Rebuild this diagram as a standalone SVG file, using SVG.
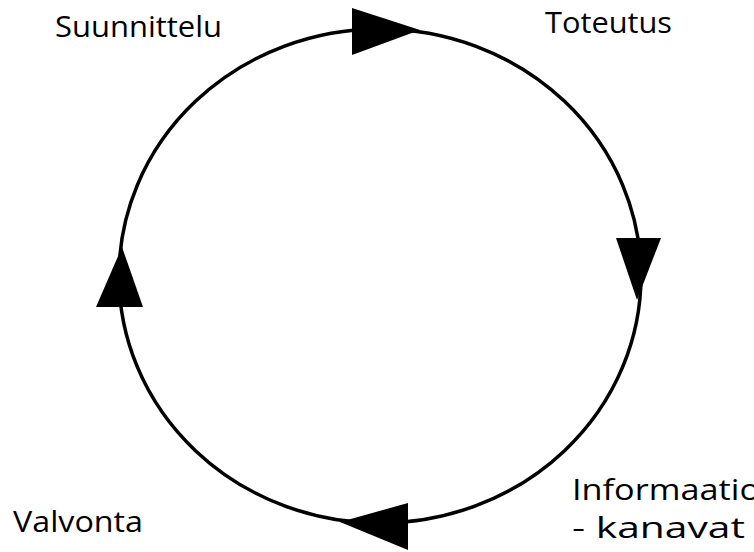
<svg xmlns="http://www.w3.org/2000/svg" width="754" height="552" viewBox="0 0 754 552">
  <style>
    .lbl { font-family: "Open Sans", "Noto Sans", "DejaVu Sans", sans-serif; font-size: 30px; fill: #000; }
    .ring { fill: none; stroke: #000; stroke-width: 3.5; }
    .head { fill: #000; }
  </style>
  <rect width="754" height="552" fill="#fff"/>

  <!-- cycle ring with direction arrowheads -->
  <g id="connectors">
    <ellipse class="ring" cx="380" cy="276" rx="261" ry="247"/>
    <polygon class="head" points="352,8 352,55 420,30"/>
    <polygon class="head" points="616,238 661,238 637,300"/>
    <polygon class="head" points="408,503 408,550 340,522"/>
    <polygon class="head" points="122,247 96,307 143,307"/>
  </g>

  <g id="suunnittelu">
    <text class="lbl" x="55" y="37" textLength="167" lengthAdjust="spacingAndGlyphs">Suunnittelu</text>
  </g>
  <g id="toteutus">
    <text class="lbl" x="545" y="33" textLength="127" lengthAdjust="spacingAndGlyphs">Toteutus</text>
  </g>
  <g id="informaatiokanavat">
    <text class="lbl" x="572" y="500" textLength="188" lengthAdjust="spacingAndGlyphs">Informaatio</text>
    <text class="lbl" x="572" y="538" textLength="173" lengthAdjust="spacingAndGlyphs">- kanavat</text>
  </g>
  <g id="valvonta">
    <text class="lbl" x="13" y="532" textLength="130" lengthAdjust="spacingAndGlyphs">Valvonta</text>
  </g>
</svg>
